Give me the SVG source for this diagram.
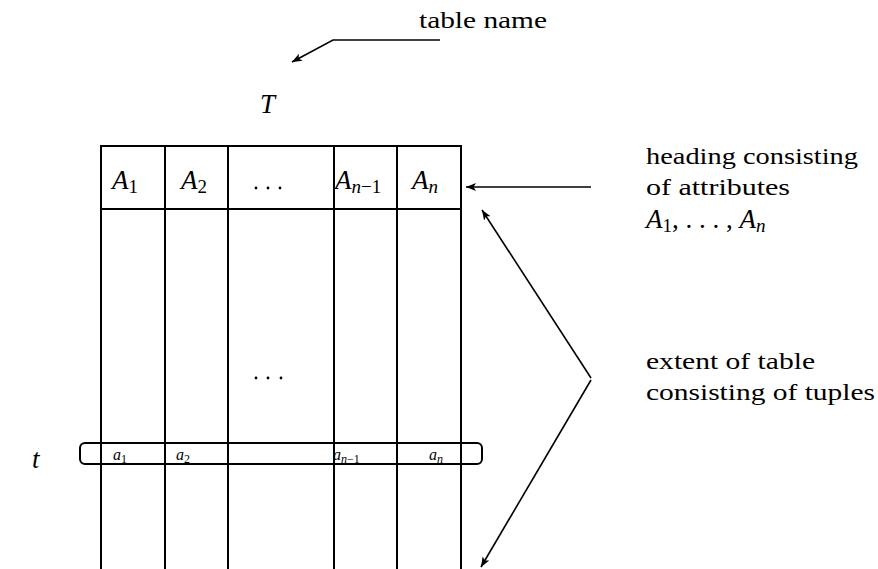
<svg xmlns="http://www.w3.org/2000/svg" width="878" height="569" viewBox="0 0 878 569" font-family="'Liberation Serif', 'Times New Roman', serif">
  <style>
    .grid { stroke: #000; stroke-width: 2; fill: none; }
    .conn { stroke: #000; stroke-width: 1.6; fill: none; }
    text { fill: #000; font-family: 'Liberation Serif', 'Times New Roman', serif; }
    .txt { font-size: 24px; }
    .math { font-style: italic; font-size: 27px; }
    .sub { font-style: normal; font-size: 19px; }
    .subi { font-size: 19px; }
    .small { font-style: italic; font-size: 16px; }
    .ssub { font-style: normal; font-size: 12px; }
    .ssubi { font-size: 12px; }
    .dot { fill: #000; }
  </style>
  <defs>
    <marker id="arrow" viewBox="0 0 10 8" refX="10" refY="4" markerWidth="10" markerHeight="8" markerUnits="userSpaceOnUse" orient="auto">
      <path d="M0,0 L10,4 L0,8 L2.5,4 Z" fill="#000"/>
    </marker>
  </defs>

  <!-- relation table: heading row and attribute columns -->
  <g id="table">
    <line class="grid" x1="100" y1="146" x2="462" y2="146"/>
    <line class="grid" x1="100" y1="209" x2="462" y2="209"/>
    <line class="grid" x1="101" y1="145" x2="101" y2="569"/>
    <line class="grid" x1="165" y1="145" x2="165" y2="569"/>
    <line class="grid" x1="228" y1="145" x2="228" y2="569"/>
    <line class="grid" x1="334" y1="145" x2="334" y2="569"/>
    <line class="grid" x1="397" y1="145" x2="397" y2="569"/>
    <line class="grid" x1="461" y1="145" x2="461" y2="569"/>
  </g>

  <g id="heading">
    <text class="math" x="112" y="189">A<tspan class="sub" dy="4">1</tspan></text>
    <text class="math" x="181" y="189">A<tspan class="sub" dy="4">2</tspan></text>
    <circle class="dot" cx="256" cy="188" r="1.4"/>
    <circle class="dot" cx="268" cy="188" r="1.4"/>
    <circle class="dot" cx="280" cy="188" r="1.4"/>
    <text class="math" x="335" y="189">A<tspan class="subi" dy="4">n</tspan><tspan class="sub">−1</tspan></text>
    <text class="math" x="412" y="189">A<tspan class="subi" dy="4">n</tspan></text>
  </g>

  <g id="extent-dots">
    <circle class="dot" cx="256" cy="378" r="1.4"/>
    <circle class="dot" cx="268" cy="378" r="1.4"/>
    <circle class="dot" cx="281" cy="378" r="1.4"/>
  </g>

  <!-- one tuple t -->
  <g id="tuple">
    <rect class="grid" x="80" y="443" width="402" height="21" rx="5" ry="5"/>
    <text class="math" x="32" y="468">t</text>
    <text class="small" x="113" y="460">a<tspan class="ssub" dy="3">1</tspan></text>
    <text class="small" x="176" y="460">a<tspan class="ssub" dy="3">2</tspan></text>
    <text class="small" x="333" y="460">a<tspan class="ssubi" dy="3">n</tspan><tspan class="ssub">−1</tspan></text>
    <text class="small" x="429" y="460">a<tspan class="ssubi" dy="3">n</tspan></text>
  </g>

  <g id="table-name">
    <text class="math" x="260" y="113">T</text>
  </g>

  <!-- annotations -->
  <g id="label-table-name">
    <text class="txt" x="419" y="28" textLength="128" lengthAdjust="spacingAndGlyphs">table name</text>
  </g>
  <g id="label-heading">
    <text class="txt" x="646" y="164" textLength="212" lengthAdjust="spacingAndGlyphs">heading consisting</text>
    <text class="txt" x="646" y="195" textLength="144" lengthAdjust="spacingAndGlyphs">of attributes</text>
    <text class="math" x="646" y="228">A<tspan class="sub" dy="4">1</tspan><tspan dy="-4" font-style="normal">, . . . , </tspan>A<tspan class="subi" dy="4">n</tspan></text>
  </g>
  <g id="label-extent">
    <text class="txt" x="646" y="369" textLength="169" lengthAdjust="spacingAndGlyphs">extent of table</text>
    <text class="txt" x="646" y="400" textLength="229" lengthAdjust="spacingAndGlyphs">consisting of tuples</text>
  </g>

  <g id="connectors">
    <polyline class="conn" points="440,40 333,40 292,62" marker-end="url(#arrow)"/>
    <line class="conn" x1="591" y1="187" x2="466" y2="187" marker-end="url(#arrow)"/>
    <line class="conn" x1="591" y1="378" x2="482" y2="210" marker-end="url(#arrow)"/>
    <line class="conn" x1="591" y1="380" x2="481" y2="567" marker-end="url(#arrow)"/>
  </g>
</svg>
